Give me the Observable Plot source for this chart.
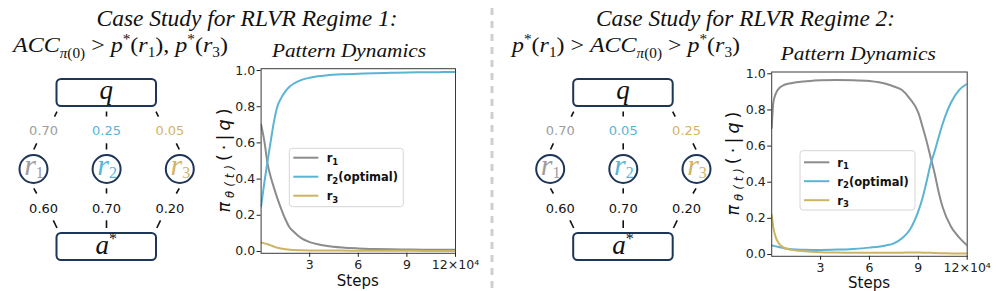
<!DOCTYPE html>
<html>
<head>
<meta charset="utf-8">
<script src="https://cdn.jsdelivr.net/npm/d3@7"></script>
<script src="https://cdn.jsdelivr.net/npm/@observablehq/plot@0.6"></script>
<style>
  html, body { margin: 0; padding: 0; background: #fff; }
  #root { position: relative; width: 997px; height: 291px; overflow: hidden; background: #fff; }
  .abs { position: absolute; }
</style>
</head>
<body>
<div id="root"></div>
<script>
// ---------------- DATA ----------------
const seriesNames = ["r1", "r2", "r3"];
const legendLabels = [["r", "1", ""], ["r", "2", "(optimal)"], ["r", "3", ""]];
const xTicks = [3, 6, 9, 12];
const yTicks = [0, 0.2, 0.4, 0.6, 0.8, 1.0];

// Regime 1 diagram probabilities
const piProbs1 = ["0.70", "0.25", "0.05"];
const pStar1 = ["0.60", "0.70", "0.20"];
// Regime 2 diagram probabilities
const piProbs2 = ["0.70", "0.05", "0.25"];
const pStar2 = ["0.60", "0.70", "0.20"];

// Regime 1 dynamics (steps in 1e4)
const steps1 = [0, 0.2, 0.4, 0.6, 0.8, 1.0, 1.25, 1.5, 1.75, 2.0, 2.5, 3.0, 3.5, 4.0, 5.0, 6.0, 7.0, 8.0, 9.0, 10.0, 11.0, 12.0];
const r1Reg1 = [0.70, 0.61, 0.485, 0.41, 0.35, 0.295, 0.233, 0.178, 0.134, 0.11, 0.072, 0.052, 0.040, 0.032, 0.022, 0.017, 0.014, 0.012, 0.011, 0.010, 0.0095, 0.009];
const r2Reg1 = [0.25, 0.38, 0.50, 0.613, 0.72, 0.80, 0.85, 0.885, 0.91, 0.927, 0.948, 0.960, 0.968, 0.973, 0.979, 0.982, 0.985, 0.987, 0.989, 0.990, 0.991, 0.992];
const r3Reg1 = [0.050, 0.045, 0.040, 0.034, 0.027, 0.021, 0.016, 0.012, 0.010, 0.008, 0.007, 0.006, 0.005, 0.005, 0.005, 0.004, 0.004, 0.004, 0.004, 0.003, 0.003, 0.003];

// Regime 2 dynamics
const steps2 = [0, 0.1, 0.25, 0.5, 0.75, 1.0, 1.5, 2.0, 3.0, 4.0, 5.0, 6.0, 7.0, 7.5, 8.0, 8.5, 9.0, 9.25, 9.5, 9.75, 10.0, 10.25, 10.5, 11.0, 11.5, 12.0];
const r1Reg2 = [0.70, 0.84, 0.89, 0.924, 0.938, 0.945, 0.953, 0.958, 0.965, 0.966, 0.965, 0.960, 0.945, 0.930, 0.910, 0.860, 0.785, 0.71, 0.63, 0.54, 0.45, 0.345, 0.26, 0.155, 0.095, 0.05];
const r2Reg2 = [0.05, 0.048, 0.045, 0.040, 0.035, 0.032, 0.028, 0.026, 0.025, 0.027, 0.031, 0.038, 0.050, 0.062, 0.090, 0.140, 0.240, 0.310, 0.400, 0.500, 0.570, 0.650, 0.725, 0.840, 0.910, 0.945];
const r3Reg2 = [0.22, 0.15, 0.095, 0.055, 0.038, 0.030, 0.022, 0.018, 0.013, 0.011, 0.010, 0.010, 0.010, 0.010, 0.010, 0.011, 0.011, 0.010, 0.010, 0.009, 0.008, 0.007, 0.007, 0.006, 0.006, 0.005];

// ---------------- STYLE ----------------
const colGray = "#8c8c8c", colBlue = "#5ab4d2", colGold = "#cdb462";
const lineColors = [colGray, colBlue, colGold];
const textColors = ["#9d9d9d", "#57b6d8", "#d2b562"];
const navy = "#1d3557";
const serif = "'Liberation Serif', 'DejaVu Serif', serif";
const sans = "'DejaVu Sans', sans-serif";

const root = document.getElementById("root");

function tidy(xs, a, b, c) {
  const out = [];
  [a, b, c].forEach((arr, k) => xs.forEach((x, i) => out.push({x, y: arr[i], s: seriesNames[k]})));
  return out;
}

function chart(data, box) {
  const svg = Plot.plot({
    width: box.w, height: box.h,
    marginLeft: box.ml, marginRight: box.mr, marginTop: box.mt, marginBottom: box.mb,
    x: {domain: [0, 12]},
    y: {domain: [-0.01, 1.01]},
    color: {domain: seriesNames, range: lineColors},
    style: {fontFamily: sans, fontSize: "12.5px", color: "#222", background: "transparent", overflow: "visible"},
    marks: [
      Plot.lineY(data, {x: "x", y: "y", z: "s", stroke: "s", strokeWidth: 2, curve: "monotone-x", clip: true}),
      Plot.frame({stroke: "#3a3a3a", strokeWidth: 1}),
      Plot.axisX({ticks: xTicks, tickSize: 4, tickPadding: 3, label: null,
                  tickFormat: d => d === 12 ? "12×10⁴" : String(d)}),
      Plot.axisY({ticks: yTicks, tickSize: 4, tickPadding: 2, label: null, tickFormat: d3.format(".1f")})
    ]
  });
  const wrap = document.createElement("div");
  wrap.className = "abs";
  wrap.style.left = box.left + "px";
  wrap.style.top = box.top + "px";
  wrap.appendChild(svg);
  root.appendChild(wrap);
}

chart(tidy(steps1, r1Reg1, r2Reg1, r3Reg1), {left: 190, top: 30, w: 290, h: 261, ml: 70.6, mr: 25, mt: 38.2, mb: 38.2});
chart(tidy(steps2, r1Reg2, r2Reg2, r3Reg2), {left: 700, top: 30, w: 297, h: 261, ml: 71.2, mr: 30.3, mt: 41.5, mb: 35.2});

// ---------------- OVERLAY ----------------
const ov = d3.select(root).append("svg")
  .attr("class", "abs").attr("width", 997).attr("height", 291)
  .style("left", "0px").style("top", "0px").style("pointer-events", "none");

// separator
ov.append("line").attr("x1", 492).attr("x2", 492).attr("y1", 8).attr("y2", 291)
  .attr("stroke", "#cfcfcf").attr("stroke-width", 3).attr("stroke-dasharray", "7,6");

// rich text helper
function rich(g, x, y, pieces, opt = {}) {
  const t = g.append("text").attr("x", x).attr("y", y)
    .attr("font-family", opt.family || serif).attr("font-size", opt.size || 22)
    .attr("fill", opt.fill || "#111").attr("text-anchor", opt.anchor || "start");
  if (opt.len) t.attr("textLength", opt.len).attr("lengthAdjust", opt.adj || "spacingAndGlyphs");
  if (opt.transform) t.attr("transform", opt.transform);
  pieces.forEach(p => {
    const s = t.append("tspan").text(p.t);
    if (p.it) s.attr("font-style", "italic");
    if (p.bold) s.attr("font-weight", "bold");
    if (p.size) s.attr("font-size", p.size);
    if (p.dy) s.attr("dy", p.dy);
    if (p.fill) s.attr("fill", p.fill);
    if (p.family) s.attr("font-family", p.family);
  });
  return t;
}

// titles
ov.append("text").attr("x", 247).attr("y", 26).attr("text-anchor", "middle")
  .attr("font-family", serif).attr("font-style", "italic").attr("font-size", 23)
  .attr("textLength", 301).attr("lengthAdjust", "spacingAndGlyphs").attr("fill", "#111")
  .text("Case Study for RLVR Regime 1:");
ov.append("text").attr("x", 745.5).attr("y", 26).attr("text-anchor", "middle")
  .attr("font-family", serif).attr("font-style", "italic").attr("font-size", 23)
  .attr("textLength", 299).attr("lengthAdjust", "spacingAndGlyphs").attr("fill", "#111")
  .text("Case Study for RLVR Regime 2:");

// formulas
const subS = 14, supS = 14;
const accPieces = [
  {t: "ACC", it: true},
  {t: "π", it: true, size: subS, dy: 6}, {t: "(0)", size: subS},
];
function pStar(idx) {
  return [
    {t: "p", it: true},
    {t: "*", size: supS, dy: -8},
    {t: "(", dy: 8}, {t: "r", it: true},
    {t: idx, size: subS, dy: 5},
    {t: ")", dy: -5}
  ];
}
rich(ov, 13, 52, [
  ...accPieces,
  {t: " >  ", dy: -6},
  ...pStar("1"), {t: ", "}, ...pStar("3")
], {size: 22, len: 215});
rich(ov, 512, 52, [
  ...pStar("1"),
  {t: " > "},
  ...accPieces,
  {t: " > ", dy: -6},
  ...pStar("3")
], {size: 22, len: 228});

// chart subtitles
ov.append("text").attr("x", 349).attr("y", 57).attr("text-anchor", "middle")
  .attr("font-family", serif).attr("font-style", "italic").attr("font-size", 18)
  .attr("textLength", 154).attr("lengthAdjust", "spacingAndGlyphs").attr("fill", "#111").text("Pattern Dynamics");
ov.append("text").attr("x", 858.3).attr("y", 60).attr("text-anchor", "middle")
  .attr("font-family", serif).attr("font-style", "italic").attr("font-size", 18)
  .attr("textLength", 155).attr("lengthAdjust", "spacingAndGlyphs").attr("fill", "#111").text("Pattern Dynamics");

// x labels
[[357.8, 285.5], [869, 288]].forEach(([x, y]) => {
  ov.append("text").attr("x", x).attr("y", y).attr("text-anchor", "middle")
    .attr("font-family", sans).attr("font-size", 15).attr("fill", "#111").text("Steps");
});

// y labels
[[230, 160.5], [739, 163.6]].forEach(([x, y]) => {
  rich(ov, 0, 0, [
    {t: "π", it: true},
    {t: "θ(t)", it: true, size: 11.5, dy: 4},
    {t: "(", dy: -4}, {t: "·"}, {t: "|"}, {t: "q", it: true}, {t: ")"}
  ], {family: sans, size: 17.5, anchor: "middle", len: 104, adj: "spacing", transform: `translate(${x},${y}) rotate(-90)`});
});

// legends
function legend(box) {
  const g = ov.append("g");
  g.append("rect").attr("x", box.x).attr("y", box.y).attr("width", box.w).attr("height", box.h)
    .attr("rx", 3).attr("fill", "rgba(255,255,255,0.85)").attr("stroke", "#d6d6d6").attr("stroke-width", 1);
  legendLabels.forEach((lab, i) => {
    const y = box.rows[i];
    g.append("line").attr("x1", box.lx1).attr("x2", box.lx2).attr("y1", y).attr("y2", y)
      .attr("stroke", lineColors[i]).attr("stroke-width", 2);
    rich(g, box.tx, y + 4.5, [
      {t: lab[0], bold: true},
      {t: lab[1], bold: true, size: 8.5, dy: 2.5},
      {t: lab[2], bold: true, dy: -2.5}
    ], {family: sans, size: 11.5});
  });
}
legend({x: 289.3, y: 148.3, w: 114, h: 58.4, lx1: 293.3, lx2: 318.3, tx: 326.7, rows: [157.7, 176.7, 195.7]});
legend({x: 800, y: 150.7, w: 115, h: 59.3, lx1: 804, lx2: 829.3, tx: 837.3, rows: [162.3, 181.2, 200.2]});

// diagrams
function diagram(dx, pis, pstars) {
  const g = ov.append("g").attr("transform", `translate(${dx},0)`);
  g.append("rect").attr("x", 56.5).attr("y", 79).attr("width", 99.5).attr("height", 27).attr("rx", 4.5)
    .attr("fill", "#fff").attr("stroke", navy).attr("stroke-width", 2);
  g.append("rect").attr("x", 56.5).attr("y", 233).attr("width", 99.5).attr("height", 27).attr("rx", 4.5)
    .attr("fill", "#fff").attr("stroke", navy).attr("stroke-width", 2);
  g.append("text").attr("x", 106.3).attr("y", 99).attr("text-anchor", "middle")
    .attr("font-family", serif).attr("font-style", "italic").attr("font-size", 27).attr("fill", "#111").text("q");
  rich(g, 106.3, 254, [{t: "a", it: true}, {t: "*", size: 16, dy: -10}], {size: 27, anchor: "middle"});
  const segs = [
    [57, 111.7, 54.5, 116.7], [106.5, 111.5, 106.5, 116.5], [156, 111.7, 158.5, 116.7],
    [36.7, 143.3, 33.8, 149.5], [106.5, 143.3, 106.5, 149.5], [176.3, 143.3, 179.3, 149.5],
    [33.8, 188.3, 36.7, 193.5], [106.5, 188.3, 106.5, 193.5], [179.3, 188.3, 176.3, 193.5],
    [53.3, 220.3, 57, 228], [106.5, 220.3, 106.5, 228], [160.5, 220.3, 156.8, 228]
  ];
  segs.forEach(s => g.append("line").attr("x1", s[0]).attr("y1", s[1]).attr("x2", s[2]).attr("y2", s[3])
    .attr("stroke", "#111").attr("stroke-width", 1.6));
  const cx = [33.5, 106.6, 179.8];
  const lx = [43.6, 106.5, 169.9];
  cx.forEach((c, i) => {
    g.append("circle").attr("cx", c).attr("cy", 169).attr("r", 14).attr("fill", "#fff")
      .attr("stroke", navy).attr("stroke-width", 2);
    rich(g, c + 0.5, 175, [{t: "r", it: true}, {t: String(i + 1), size: 16, dy: 3}],
      {size: 30, anchor: "middle", fill: textColors[i]});
    g.append("text").attr("x", lx[i]).attr("y", 135).attr("text-anchor", "middle")
      .attr("font-family", sans).attr("font-size", 13).attr("fill", textColors[i]).text(pis[i]);
    g.append("text").attr("x", lx[i]).attr("y", 213.3).attr("text-anchor", "middle")
      .attr("font-family", sans).attr("font-size", 13).attr("fill", "#111").text(pstars[i]);
  });
}
diagram(0, piProbs1, pStar1);
diagram(516.7, piProbs2, pStar2);
</script>
</body>
</html>
